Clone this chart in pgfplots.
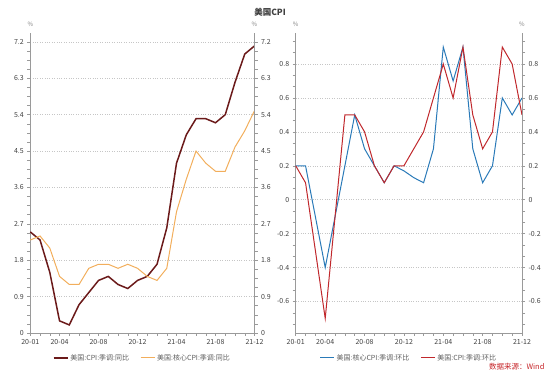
\documentclass[border=0pt]{standalone}
\usepackage{pgfplots}
\pgfplotsset{compat=1.18}
\usepackage{fontspec}
\setmainfont{Noto Sans CJK SC}
\definecolor{cpiy}{HTML}{6B1A1A}
\definecolor{corey}{HTML}{F2AE5C}
\definecolor{corem}{HTML}{2A7AB8}
\definecolor{cpim}{HTML}{C0282C}
\definecolor{axgray}{HTML}{9A9A9A}
\definecolor{txt}{HTML}{404040}
\pgfplotsset{
  base/.style={
    scale only axis, xmin=0, xmax=23,
    axis line style={axgray, line width=0.6pt},
    tick style={axgray, line width=0.5pt},
    tick align=outside,
    major tick length=3pt, minor tick length=3pt,
    ticklabel style={font=\fontsize{7}{8}\selectfont, text=txt},
    /pgf/number format/assume math mode=true,
    xtick={0,...,23},
    xticklabels={20-01,,,20-04,,,,20-08,,,,20-12,,,,21-04,,,,21-08,,,,21-12},
    clip=false,
  },
  leftpanel/.style={base, ymin=0, ymax=7.42,
    ytick={0,0.9,1.8,2.7,3.6,4.5,5.4,6.3,7.2},
    yticklabels={0,0.9,1.8,2.7,3.6,4.5,5.4,6.3,7.2},
    minor ytick={0.225,0.45,0.675,1.125,1.35,1.575,2.025,2.25,2.475,2.925,3.15,3.375,3.825,4.05,4.275,4.725,4.95,5.175,5.625,5.85,6.075,6.525,6.75,6.975,7.425},
  },
  rightpanel/.style={base, ymin=-0.786, ymax=0.983,
    ytick={-0.6,-0.4,-0.2,0,0.2,0.4,0.6,0.8},
    yticklabels={-0.6,-0.4,-0.2,0,0.2,0.4,0.6,0.8},
    minor ytick={-0.7333,-0.6667,-0.5333,-0.4667,-0.3333,-0.2667,-0.1333,-0.0667,0.0667,0.1333,0.2667,0.3333,0.4667,0.5333,0.6667,0.7333,0.8667,0.9333},
  },
  lgd/.style={legend style={draw=none, fill=none, at={(0.5,-0.083)}, anchor=center,
      legend columns=2, font=\fontsize{7}{8}\selectfont, text=txt!85,
      /tikz/every even column/.append style={column sep=9pt}},
    legend image code/.code={\draw[##1] (0pt,0pt) -- (14pt,0pt);},
  },
}
\begin{document}
\begin{tikzpicture}
\useasboundingbox (0,0) rectangle (550pt,378pt);
% ---------- left panel ----------
\begin{axis}[leftpanel, lgd, at={(30.3pt,45pt)}, anchor=south west,
  width=224.2pt, height=300pt,
  axis x line*=bottom, axis y line*=left,
  ymajorgrids, major grid style={dotted, gray!45, line width=0.5pt}]
\addplot[cpiy, line width=1.5pt] coordinates {
(0,2.5)(1,2.3)(2,1.5)(3,0.3)(4,0.2)(5,0.7)(6,1.0)(7,1.3)(8,1.4)(9,1.2)(10,1.1)(11,1.3)
(12,1.4)(13,1.7)(14,2.6)(15,4.2)(16,4.9)(17,5.3)(18,5.3)(19,5.2)(20,5.4)(21,6.2)(22,6.9)(23,7.1)};
\addlegendentry{美国:CPI:季调:同比}
\addplot[corey, line width=1pt] coordinates {
(0,2.3)(1,2.4)(2,2.1)(3,1.4)(4,1.2)(5,1.2)(6,1.6)(7,1.7)(8,1.7)(9,1.6)(10,1.7)(11,1.6)
(12,1.4)(13,1.3)(14,1.6)(15,3.0)(16,3.8)(17,4.5)(18,4.2)(19,4.0)(20,4.0)(21,4.6)(22,5.0)(23,5.5)};
\addlegendentry{美国:核心CPI:季调:同比}
\end{axis}
\begin{axis}[leftpanel, at={(30.3pt,45pt)}, anchor=south west,
  width=224.2pt, height=300pt,
  axis x line=none, axis y line*=right]
\end{axis}
% ---------- right panel ----------
\begin{axis}[rightpanel, lgd, at={(295.7pt,45pt)}, anchor=south west,
  width=226.3pt, height=300pt,
  axis x line*=bottom, axis y line*=left,
  ymajorgrids, major grid style={dotted, gray!45, line width=0.5pt}]
\addplot[corem, line width=1pt] coordinates {
(0,0.2)(1,0.2)(2,-0.1)(3,-0.4)(4,-0.1)(5,0.2)(6,0.5)(7,0.3)(8,0.2)(9,0.1)(10,0.2)(11,0.17)
(12,0.13)(13,0.1)(14,0.3)(15,0.9)(16,0.7)(17,0.9)(18,0.3)(19,0.1)(20,0.2)(21,0.6)(22,0.5)(23,0.6)};
\addlegendentry{美国:核心CPI:季调:环比}
\addplot[cpim, line width=1pt] coordinates {
(0,0.2)(1,0.1)(2,-0.3)(3,-0.7)(4,-0.1)(5,0.5)(6,0.5)(7,0.4)(8,0.2)(9,0.1)(10,0.2)(11,0.2)
(12,0.3)(13,0.4)(14,0.6)(15,0.8)(16,0.6)(17,0.9)(18,0.5)(19,0.3)(20,0.4)(21,0.9)(22,0.8)(23,0.5)};
\addlegendentry{美国:CPI:季调:环比}
\end{axis}
\begin{axis}[rightpanel, at={(295.7pt,45pt)}, anchor=south west,
  width=226.3pt, height=300pt,
  axis x line=none, axis y line*=right]
\end{axis}
% ---------- texts ----------
\node[font=\bfseries\fontsize{8.5}{9}\selectfont, text=txt] at (270pt,366pt) {美国CPI};
\foreach \xx in {30.3,254.5,295.7,522} {
  \node[font=\fontsize{6}{7}\selectfont, text=gray] at (\xx pt,354pt) {\%};
}
\node[anchor=east, font=\fontsize{7.5}{8}\selectfont, text={cpim!90!red}] at (548pt,11pt) {数据来源：Wind};
\end{tikzpicture}
\end{document}
